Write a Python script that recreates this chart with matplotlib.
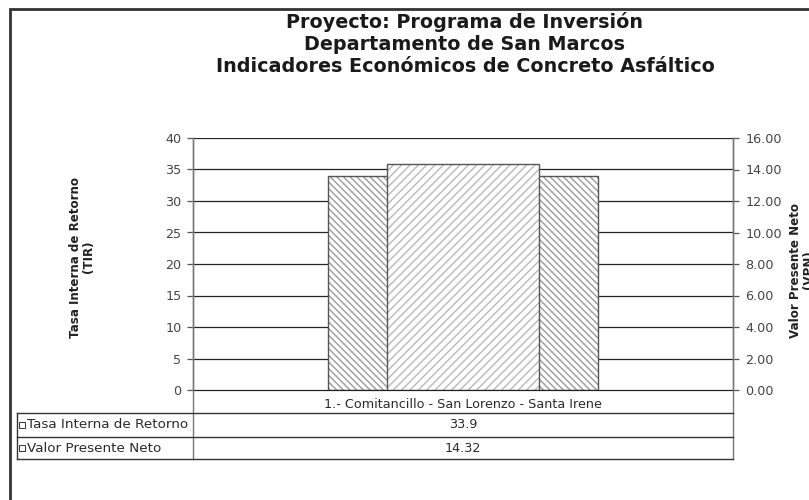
import matplotlib
matplotlib.use("Agg")
import matplotlib.pyplot as plt
from matplotlib.lines import Line2D
from matplotlib.patches import Rectangle

# ── data ────────────────────────────────────────────────────────────────────
title_lines = [
    "Proyecto: Programa de Inversión",
    "Departamento de San Marcos",
    "Indicadores Económicos de Concreto Asfáltico",
]
category = "1.- Comitancillo - San Lorenzo - Santa Irene"
series_names = ["Tasa Interna de Retorno", "Valor Presente Neto"]
tir_value = 33.9
vpn_value = 14.32
tir_label = "33.9"
vpn_label = "14.32"
left_ticks = [0, 5, 10, 15, 20, 25, 30, 35, 40]
right_ticks = [0, 2, 4, 6, 8, 10, 12, 14, 16]

# the source picture is stretched sideways, DejaVu (wider) gets closer
plt.rcParams["font.family"] = ["DejaVu Sans"]

W, H = 809, 500
fig = plt.figure(figsize=(W / 100, H / 100), dpi=100)


def fx(x):
    return x / W


def fy(y):
    return 1 - y / H


def hline(x0, x1, y, color="#333333", lw=1.0):
    fig.add_artist(Line2D([fx(x0), fx(x1)], [fy(y), fy(y)], color=color, lw=lw))


def vline(x, y0, y1, color="#333333", lw=1.0):
    fig.add_artist(Line2D([fx(x), fx(x)], [fy(y0), fy(y1)], color=color, lw=lw))


# plot area in pixels
L, R, T, B = 193, 733, 138, 390
ax = fig.add_axes([fx(L), fy(B), fx(R) - fx(L), fy(T) - fy(B)])
ax2 = ax.twinx()

ax.set_xlim(-0.5, 0.5)
ax.set_ylim(0, 40)
ax2.set_ylim(0, 16)

for v in left_ticks[1:]:
    ax.axhline(v, color="#222222", lw=0.9, zorder=0)

# TIR bar (behind, wide)
ax.bar(0, tir_value, width=0.5, facecolor="white", edgecolor="#9a9a9a",
       hatch="\\\\\\\\\\", lw=0, zorder=2)
ax.bar(0, tir_value, width=0.5, facecolor="none", edgecolor="#555555",
       lw=1.0, zorder=3)
# VPN bar (front, narrow) on right axis
ax2.set_zorder(ax.get_zorder() + 1)
ax2.patch.set_visible(False)
ax2.bar(0, vpn_value, width=0.283, facecolor="white", edgecolor="#b8b8b8",
        hatch="////", lw=0, zorder=2)
ax2.bar(0, vpn_value, width=0.283, facecolor="none", edgecolor="#555555",
        lw=1.0, zorder=3)

ax.set_xticks([])
ax.set_yticks(left_ticks)
ax.set_yticklabels([str(t) for t in left_ticks])
ax2.set_yticks(right_ticks)
ax2.set_yticklabels([f"{t:.2f}" for t in right_ticks])
ax.tick_params(axis="y", pad=4.3)
ax2.tick_params(axis="y", pad=5)
for a in (ax, ax2):
    a.tick_params(axis="y", direction="out", length=4, width=0.9,
                  color="#555555", labelsize=9.2, labelcolor="#444444")
    a.spines["top"].set_visible(False)
    for s in ("left", "right"):
        a.spines[s].set_color("#777777")
        a.spines[s].set_linewidth(1.0)
    a.spines["bottom"].set_color("#222222")

# ── titles / labels ─────────────────────────────────────────────────────────
for i, line in enumerate(title_lines):
    fig.text(fx(465), fy(22 + i * 22), line, ha="center", va="center",
             fontsize=13.8, fontweight="bold", color="#1a1a1a")

fig.text(fx(82), fy(257), "Tasa Interna de Retorno\n(TIR)", rotation=90,
         ha="center", va="center", fontsize=8.6, fontweight="bold",
         color="#222222", linespacing=1.05)
fig.text(fx(802), fy(270), "Valor Presente Neto\n(VPN)", rotation=90,
         ha="center", va="center", fontsize=8.6, fontweight="bold",
         color="#222222", linespacing=1.05)

# ── data table ──────────────────────────────────────────────────────────────
TL = 17
rows_y = [413, 437, 459]
vline(L, B, rows_y[-1], color="#777777")
vline(R, B, rows_y[-1], color="#777777")
vline(TL, rows_y[0], rows_y[-1])
for y in rows_y:
    hline(TL, R, y)

fig.text(fx((L + R) / 2), fy(404), category, ha="center", va="center",
         fontsize=9.2, color="#2a2a2a")
values = [tir_label, vpn_label]
for i, (name, val) in enumerate(zip(series_names, values)):
    yc = (rows_y[i] + rows_y[i + 1]) / 2
    fig.add_artist(Rectangle((fx(19), fy(yc + 3)), fx(6), fy(0) - fy(6),
                             facecolor="white", edgecolor="#333333", lw=0.7))
    fig.text(fx(27), fy(yc), name, ha="left", va="center", fontsize=9.7,
             color="#2a2a2a")
    fig.text(fx((L + R) / 2), fy(yc), val, ha="center", va="center",
             fontsize=9.2, color="#2a2a2a")

# outer frame (left & top visible)
fig.add_artist(Rectangle((fx(10), fy(600)), fx(900), fy(9) - fy(600),
                         facecolor="none", edgecolor="#333333", lw=2.0))

fig.savefig("out.png", dpi=100)
